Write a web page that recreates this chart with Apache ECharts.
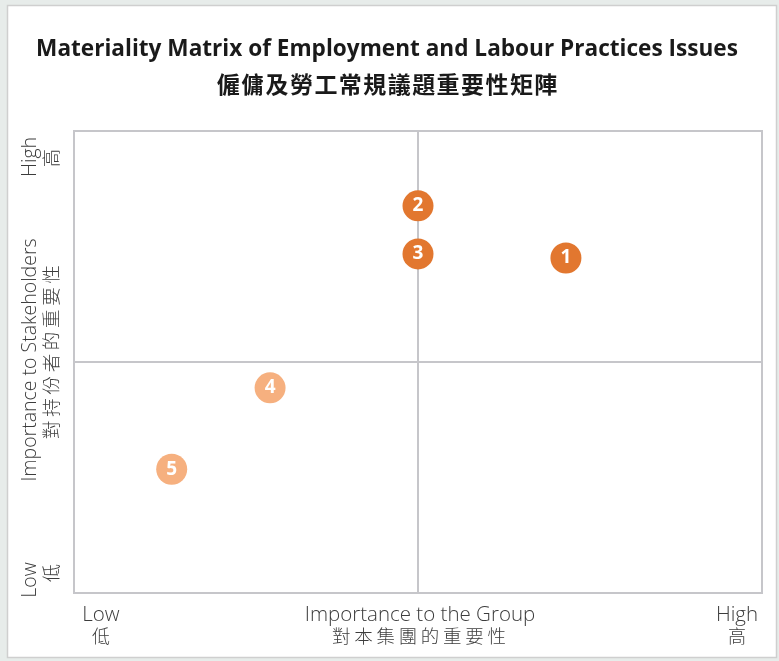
<!DOCTYPE html>
<html>
<head>
<meta charset="utf-8">
<script src="https://cdn.jsdelivr.net/npm/echarts@6/dist/echarts.min.js"></script>
<style>
  html, body { margin: 0; padding: 0; background: #e7ecea; }
  #chart { width: 779px; height: 661px; }
</style>
</head>
<body>
<div id="chart"></div>
<script>
// Issues plotted on the matrix
const issueIds = ['1', '2', '3', '4', '5'];
const groupImportance = [7.15, 5.0, 5.0, 2.85, 1.42];
const stakeholderImportance = [7.25, 8.38, 7.34, 4.44, 2.68];
const issueTier = ['high', 'high', 'high', 'medium', 'medium'];

// Axis end and centre captions
const xCaptionsEn = ['Low', 'Importance to the Group', 'High'];
const xCaptionsZh = ['低', '對本集團的重要性', '高'];
const yCaptionsEn = ['Low', 'Importance to Stakeholders', 'High'];
const yCaptionsZh = ['低', '對持份者的重要性', '高'];

const titleEn = 'Materiality Matrix of Employment and Labour Practices Issues';
const titleZh = '僱傭及勞工常規議題重要性矩陣';

const tierColor = { high: '#e2772f', medium: '#f6b07f' };
const gridLine = '#c6c6ca';
const capColor = '#3c3c3c';
const latin = '"Open Sans", "Noto Sans", sans-serif';
const cjk = '"Noto Sans CJK TC", "Noto Sans CJK SC", sans-serif';

const points = issueIds.map((id, i) => ({
  name: id,
  value: [groupImportance[i], stakeholderImportance[i]],
  itemStyle: { color: tierColor[issueTier[i]], opacity: 1 }
}));

const chart = echarts.init(document.getElementById('chart'));

function captionText(x, y, text, font, size, rotation) {
  return {
    type: 'text', x: x, y: y, rotation: rotation || 0, silent: true,
    style: {
      text: text, fill: capColor, align: 'center', verticalAlign: 'middle',
      font: '300 ' + size + 'px ' + font
    }
  };
}

const R = Math.PI / 2;
chart.setOption({
  backgroundColor: '#e7ecea',
  animation: false,
  grid: {
    left: 74, right: 17, top: 131, bottom: 68,
    show: true, borderColor: gridLine, borderWidth: 2, backgroundColor: '#ffffff'
  },
  xAxis: {
    type: 'value', min: 0, max: 10, interval: 5,
    axisLine: { show: false }, axisTick: { show: false }, axisLabel: { show: false },
    splitLine: { show: true, lineStyle: { color: gridLine, width: 2 } }
  },
  yAxis: {
    type: 'value', min: 0, max: 10, interval: 5,
    axisLine: { show: false }, axisTick: { show: false }, axisLabel: { show: false },
    splitLine: { show: true, lineStyle: { color: gridLine, width: 2 } }
  },
  graphic: [
    {
      type: 'rect', z: -10, silent: true,
      shape: { x: 7.5, y: 5.5, width: 769, height: 652 },
      style: { fill: '#ffffff', stroke: '#cfcfcf', lineWidth: 1.5 }
    },
    {
      type: 'text', x: 387, y: 50, silent: true,
      style: {
        text: titleEn, fill: '#1a1a1a', align: 'center', verticalAlign: 'middle',
        font: 'bold 22.6px ' + latin
      }
    },
    {
      type: 'text', x: 387, y: 84, silent: true,
      style: {
        text: titleZh.split('').join('\u200a'), fill: '#1a1a1a', align: 'center', verticalAlign: 'middle',
        font: 'bold 23px ' + cjk
      }
    },
    captionText(101, 615, xCaptionsEn[0], latin, 20.5),
    captionText(420, 615, xCaptionsEn[1], latin, 20.5),
    captionText(737, 615, xCaptionsEn[2], latin, 20.5),
    captionText(101, 636, xCaptionsZh[0], cjk, 18),
    captionText(419, 636, xCaptionsZh[1].split('').join('\u2009'), cjk, 18.5),
    captionText(737, 636, xCaptionsZh[2], cjk, 18),
    captionText(30, 580, yCaptionsEn[0], latin, 19.5, R),
    captionText(30, 360, yCaptionsEn[1], latin, 19.5, R),
    captionText(30, 157, yCaptionsEn[2], latin, 19.5, R),
    captionText(51, 573, yCaptionsZh[0], cjk, 18, R),
    captionText(51, 352, yCaptionsZh[1].split('').join('\u2009'), cjk, 18.5, R),
    captionText(51, 158, yCaptionsZh[2], cjk, 18, R)
  ],
  series: [{
    type: 'scatter',
    symbol: 'circle',
    symbolSize: 31,
    data: points,
    label: {
      show: true, position: 'inside', formatter: '{b}',
      color: '#ffffff', fontFamily: latin, fontWeight: 'bold', fontSize: 19
    }
  }]
});
</script>
</body>
</html>
